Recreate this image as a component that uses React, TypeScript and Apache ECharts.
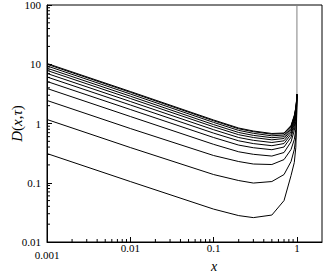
import React, { useEffect, useRef } from 'react';
import * as echarts from 'echarts';

// x positions where each curve was read
const xs = [0.001, 0.01, 0.1, 0.2, 0.3, 0.5, 0.7, 0.85, 0.93, 0.97, 0.99, 1.0];

// D(x, tau) curves, top (latest) to bottom (earliest)
const d0 = [10.31, 3.47, 1.146, 0.839, 0.747, 0.678, 0.691, 0.925, 1.365, 1.863, 2.446, 3.09];
const d1 = [10.0, 3.365, 1.111, 0.814, 0.727, 0.66, 0.675, 0.907, 1.339, 1.834, 2.418, 3.09];
const d2 = [9.36, 3.15, 1.044, 0.765, 0.683, 0.62, 0.639, 0.869, 1.288, 1.764, 2.362, 3.09];
const d3 = [8.59, 2.892, 0.958, 0.705, 0.63, 0.576, 0.598, 0.82, 1.224, 1.684, 2.298, 3.09];
const d4 = [7.86, 2.645, 0.88, 0.647, 0.58, 0.53, 0.558, 0.774, 1.159, 1.601, 2.22, 3.09];
const d5 = [6.99, 2.353, 0.786, 0.58, 0.52, 0.478, 0.51, 0.718, 1.081, 1.504, 2.135, 3.09];
const d6 = [6.1, 2.054, 0.688, 0.51, 0.458, 0.422, 0.459, 0.657, 0.996, 1.398, 2.038, 3.09];
const d7 = [5.12, 1.724, 0.58, 0.432, 0.39, 0.361, 0.401, 0.587, 0.897, 1.268, 1.915, 3.09];
const d8 = [3.9, 1.313, 0.445, 0.333, 0.302, 0.282, 0.324, 0.491, 0.762, 1.089, 1.738, 3.09];
const d9 = [2.446, 0.823, 0.288, 0.228, 0.207, 0.203, 0.246, 0.364, 0.537, 0.792, 1.419, 3.09];
const d10 = [1.168, 0.393, 0.1375, 0.109, 0.0988, 0.1048, 0.1375, 0.228, 0.364, 0.58, 1.263, 3.09];
const d11 = [0.311, 0.1048, 0.0359, 0.0279, 0.0258, 0.0285, 0.05, 0.1323, 0.2195, 0.393, 1.081, 3.09];
const curves = [d0, d1, d2, d3, d4, d5, d6, d7, d8, d9, d10, d11];

// singular wall at x = 1
const wallX = [1, 1];
const wallY = [3.09, 100];

// axis ranges and tick decades
const xMin = 0.001;
const xMax = 2;
const yMin = 0.01;
const yMax = 100;
const minorMult = [2, 3, 4, 5, 6, 7, 8, 9];
const xDecades = [0.001, 0.01, 0.1];
const yDecades = [0.01, 0.1, 1, 10];

export default function App() {
  const ref = useRef<HTMLDivElement>(null);
  useEffect(() => {
    const chart = echarts.init(ref.current!, null, { renderer: 'svg' });
    const serif = 'Liberation Serif';
    const isPow10 = (v: number) => Math.abs(Math.log10(v) - Math.round(Math.log10(v))) < 1e-6;
    const fmt = (v: number) => {
      if (!isPow10(v)) return '';
      const e = Math.round(Math.log10(v));
      return e >= 0 ? String(Math.round(Math.pow(10, e))) : Math.pow(10, e).toFixed(-e);
    };
    const minorX: number[][] = [];
    xDecades.forEach((d) => minorMult.forEach((m) => minorX.push([d * m, yMin])));
    const minorY: number[][] = [];
    yDecades.forEach((d) => minorMult.forEach((m) => minorY.push([xMin, d * m])));

    const lineSeries = curves.map((c, i) => ({
      type: 'line',
      name: 'c' + i,
      data: xs.map((x, j) => [x, c[j]]),
      showSymbol: false,
      smooth: false,
      lineStyle: { color: '#000', width: 1 },
      silent: true,
      z: 2,
    }));

    chart.setOption({
      animation: false,
      grid: { left: 47, right: 5, top: 5, bottom: 38, show: true, borderColor: '#000', borderWidth: 1, containLabel: false, outerBoundsMode: 'none' },
      xAxis: {
        type: 'log',
        logBase: 10,
        min: xMin,
        max: xMax,
        name: 'x',
        nameLocation: 'middle',
        nameGap: 17,
        nameMoveOverlap: false,
        nameTextStyle: { fontFamily: serif, fontStyle: 'italic', fontSize: 14, color: '#000', padding: [0, 0, 0, 59] },
        axisLine: { lineStyle: { color: '#000', width: 1 } },
        axisTick: { inside: true, length: 5, lineStyle: { color: '#000' } },
        splitLine: { show: false },
        axisLabel: {
          fontFamily: serif,
          fontSize: 11,
          color: '#000',
          margin: 0,
          showMaxLabel: false,
          formatter: (v: number) => {
            const s = fmt(v);
            if (s === '0.001') return '{low|0.001}';
            return s;
          },
          rich: { low: { fontFamily: serif, fontSize: 11, color: '#000', padding: [7, 0, 0, 0] } },
        },
      },
      yAxis: {
        type: 'log',
        logBase: 10,
        min: yMin,
        max: yMax,
        name: '{i|D}{n|(}{i|x}{n|,}{i|τ}{n|)}',
        nameLocation: 'middle',
        nameRotate: 90,
        nameGap: 23,
        nameMoveOverlap: false,
        nameTextStyle: {
          fontFamily: serif,
          fontSize: 15,
          color: '#000',
          rich: {
            i: { fontFamily: serif, fontStyle: 'italic', fontSize: 15, color: '#000' },
            n: { fontFamily: serif, fontSize: 15, color: '#000' },
          },
        },
        axisLine: { lineStyle: { color: '#000', width: 1 } },
        axisTick: { inside: true, length: 5, lineStyle: { color: '#000' } },
        splitLine: { show: false },
        axisLabel: { fontFamily: serif, fontSize: 11, color: '#000', margin: 6, formatter: (v: number) => fmt(v) },
      },
      series: [
        ...lineSeries,
        {
          type: 'line',
          name: 'wall',
          data: wallX.map((x, j) => [x, wallY[j]]),
          showSymbol: false,
          lineStyle: { color: '#808080', width: 1 },
          silent: true,
          z: 1,
        },
        {
          type: 'custom',
          name: 'minorX',
          data: minorX,
          silent: true,
          clip: false,
          z: 3,
          renderItem: (params: any, api: any) => {
            const p = api.coord([api.value(0), api.value(1)]);
            return { type: 'line', shape: { x1: p[0], y1: p[1], x2: p[0], y2: p[1] - 3 }, style: { stroke: '#000', lineWidth: 1 } };
          },
        },
        {
          type: 'custom',
          name: 'minorY',
          data: minorY,
          silent: true,
          clip: false,
          z: 3,
          renderItem: (params: any, api: any) => {
            const p = api.coord([api.value(0), api.value(1)]);
            return { type: 'line', shape: { x1: p[0], y1: p[1], x2: p[0] + 3, y2: p[1] }, style: { stroke: '#000', lineWidth: 1 } };
          },
        },
      ],
    });
    return () => chart.dispose();
  }, []);
  return <div ref={ref} style={{ position: 'absolute', left: 0, top: 0, width: 327, height: 280 }} />;
}
